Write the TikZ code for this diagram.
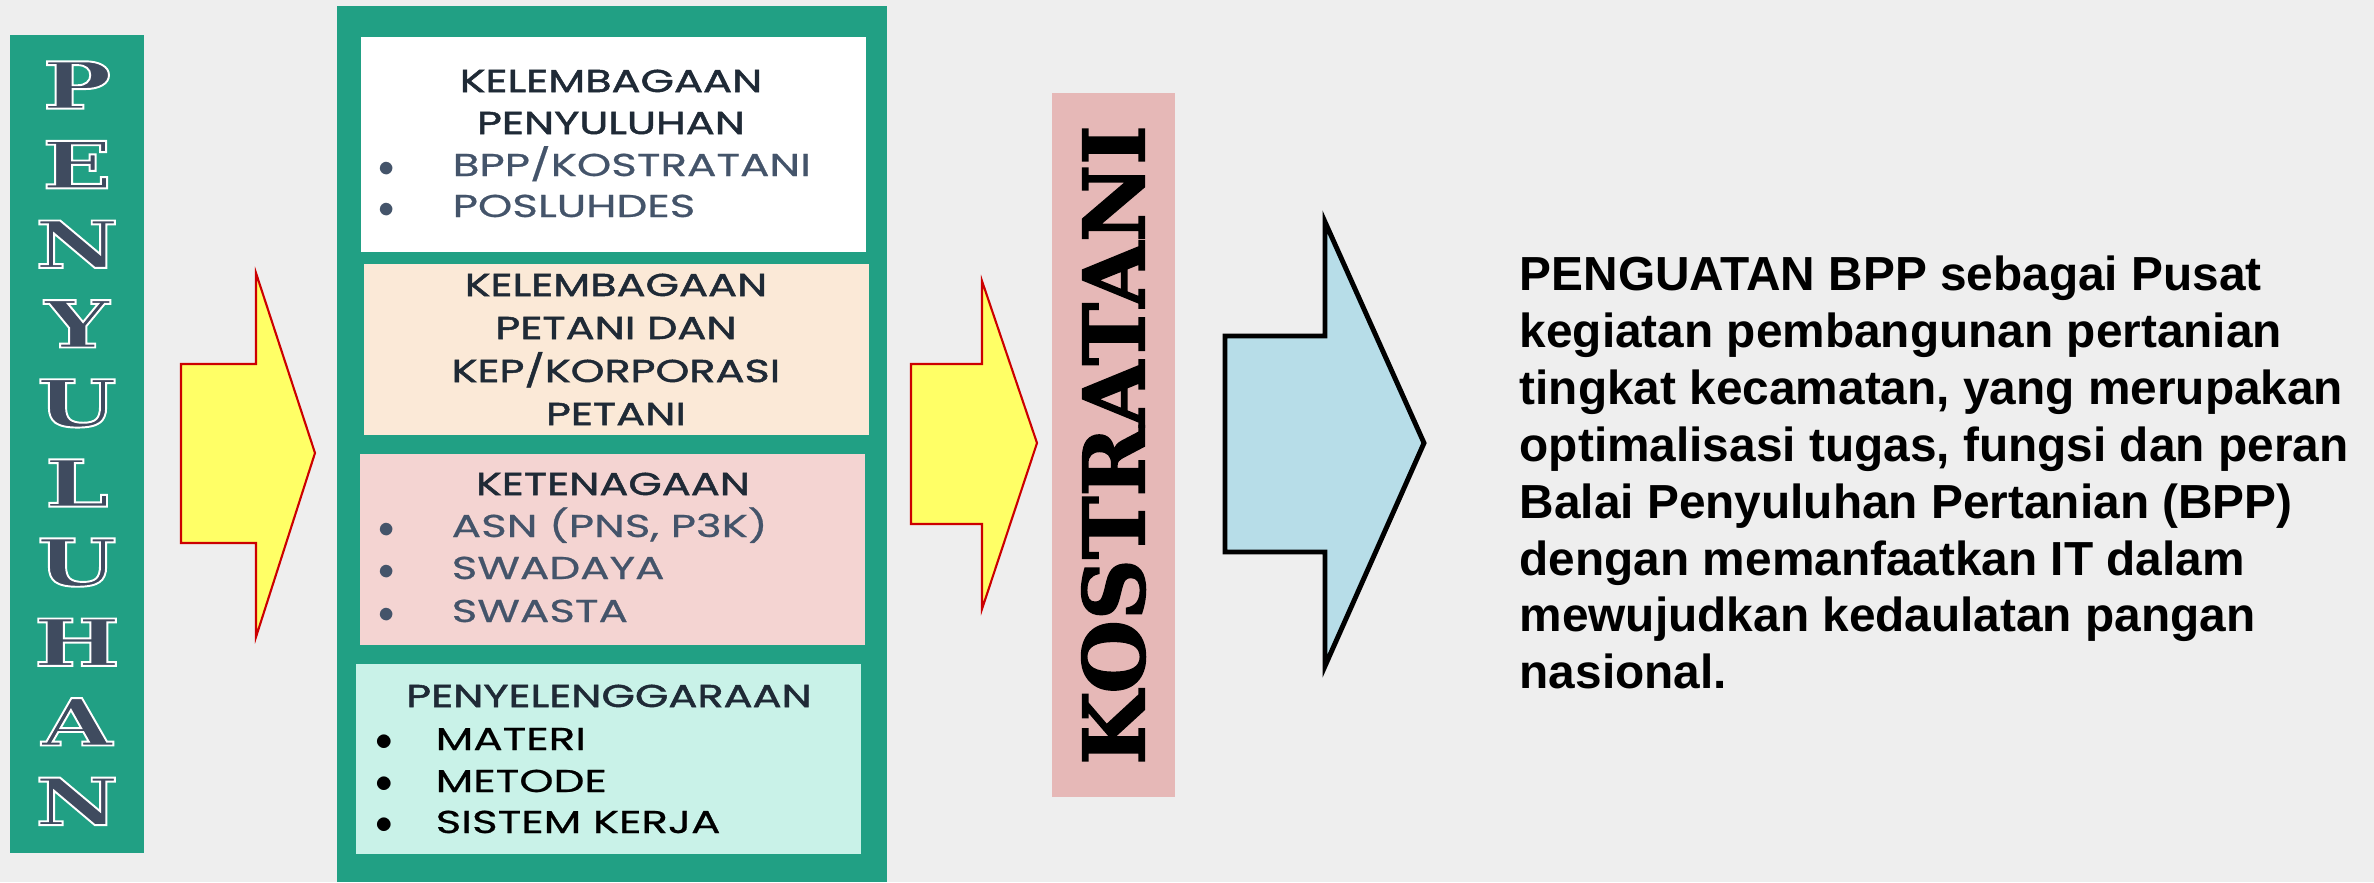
\documentclass[tikz,border=0pt]{standalone}
\usepackage{fontspec}
\usepackage{tikz}
\usetikzlibrary{positioning,calc}
\setmainfont{Liberation Sans}
\newfontfamily\judulfont[FakeStretch=1.36,FakeBold=1.6]{Poppins}
\newfontfamily\kotakfont[FakeStretch=1.38,FakeBold=0.7]{Poppins}
\newfontfamily\hurufbesar[FakeStretch=1.4]{DejaVu Serif}
\newfontfamily\serifbesar[FakeBold=2]{DejaVu Serif}
% huruf gelap dengan tepi putih
\newcommand{\tepiputih}[1]{\special{pdf:literal direct 2 Tr 1 1 1 RG 0.55 w}#1\special{pdf:literal direct 0 Tr}}
\definecolor{kertas}{HTML}{EEEEEE}
\definecolor{hijau}{HTML}{21A084}
\definecolor{abubiru}{HTML}{3F4B5F}
\definecolor{judulwarna}{HTML}{1F2A36}
\definecolor{butirwarna}{HTML}{44546A}
\definecolor{krem}{HTML}{FBE9D7}
\definecolor{merahmuda}{HTML}{F4D4D2}
\definecolor{mint}{HTML}{C9F2E8}
\definecolor{pink}{HTML}{E6B8B7}
\definecolor{kuning}{HTML}{FFFF66}
\definecolor{biru}{HTML}{B7DDE8}
\tikzstyle{batang} = [rectangle, fill=hijau, inner sep=0pt]
\tikzstyle{kotak} = [rectangle, inner sep=0pt, minimum width=5.05cm]
\tikzstyle{huruf} = [inner sep=0pt, text=abubiru, font=\hurufbesar\bfseries\fontsize{18.5}{18.5}\selectfont]
\tikzstyle{judul} = [anchor=base, inner sep=0pt, text=judulwarna, font=\judulfont\fontsize{9}{11}\selectfont]
\tikzstyle{butir} = [anchor=base west, inner sep=0pt, text=butirwarna, font=\kotakfont\fontsize{9}{11}\selectfont]
\tikzstyle{titik} = [anchor=base, inner sep=0pt, text=butirwarna, font=\small]
\tikzstyle{panahkuning} = [fill=kuning, draw=red!80!black, line width=0.6pt]
\tikzstyle{panahbiru} = [fill=biru, draw=black, line width=1.4pt]

\begin{document}
\begin{tikzpicture}
\useasboundingbox (0,0) rectangle (23.74,8.82);
\fill[kertas] (0,0) rectangle (23.74,8.82);
% kolom PENYULUHAN
\node (pen) at (0.77,4.38) [batang, minimum width=1.34cm, minimum height=8.18cm] {};
\node (h0) at (0.77,7.97) [huruf] {\tepiputih{P}};
\node (h1) at (0.77,7.174) [huruf] {\tepiputih{E}};
\node (h2) at (0.77,6.378) [huruf] {\tepiputih{N}};
\node (h3) at (0.77,5.582) [huruf] {\tepiputih{Y}};
\node (h4) at (0.77,4.786) [huruf] {\tepiputih{U}};
\node (h5) at (0.77,3.99) [huruf] {\tepiputih{L}};
\node (h6) at (0.77,3.194) [huruf] {\tepiputih{U}};
\node (h7) at (0.77,2.398) [huruf] {\tepiputih{H}};
\node (h8) at (0.77,1.602) [huruf] {\tepiputih{A}};
\node (h9) at (0.77,0.806) [huruf] {\tepiputih{N}};
\draw[panahkuning] (1.81,5.18) -- (2.56,5.18) -- (2.56,6.09) -- (3.15,4.29) -- (2.56,2.45) -- (2.56,3.39) -- (1.81,3.39) -- cycle;
% kolom tengah
\node (wadah) at (6.12,4.38) [batang, minimum width=5.5cm, minimum height=8.76cm] {};
\node (k1) at (6.13,7.375) [kotak, fill=white, minimum height=2.15cm] {};
\node (k2) at (6.165,5.325) [kotak, fill=krem, minimum height=1.71cm] {};
\node (k3) at (6.125,3.325) [kotak, fill=merahmuda, minimum height=1.91cm] {};
\node (k4) at (6.08,1.23) [kotak, fill=mint, minimum height=1.9cm] {};
\node (j1a) at (6.11,7.90) [judul] {KELEMBAGAAN};
\node (j1b) at (6.11,7.48) [judul] {PENYULUHAN};
\node (t1a) at (3.87,7.06) [titik] {$\bullet$};
\node (b1a) at (4.52,7.06) [butir] {BPP/KOSTRATANI};
\node (t1b) at (3.87,6.65) [titik] {$\bullet$};
\node (b1b) at (4.52,6.65) [butir] {POSLUHDES};
\node (j2a) at (6.16,5.86) [judul] {KELEMBAGAAN};
\node (j2b) at (6.16,5.43) [judul] {PETANI DAN};
\node (j2c) at (6.16,5.00) [judul] {KEP/KORPORASI};
\node (j2d) at (6.16,4.57) [judul] {PETANI};
\node (j3) at (6.13,3.87) [judul] {KETENAGAAN};
\node (t3a) at (3.87,3.45) [titik] {$\bullet$};
\node (b3a) at (4.51,3.45) [butir] {ASN (PNS, P3K)};
\node (t3b) at (3.87,3.03) [titik] {$\bullet$};
\node (b3b) at (4.51,3.03) [butir] {SWADAYA};
\node (t3c) at (3.87,2.60) [titik] {$\bullet$};
\node (b3c) at (4.51,2.60) [butir] {SWASTA};
\node (j4) at (6.09,1.75) [judul] {PENYELENGGARAAN};
\node (t4a) at (3.84,1.32) [titik, text=black, font=\normalsize] {$\bullet$};
\node (b4a) at (4.35,1.32) [butir, text=black] {MATERI};
\node (t4b) at (3.84,0.90) [titik, text=black, font=\normalsize] {$\bullet$};
\node (b4b) at (4.35,0.90) [butir, text=black] {METODE};
\node (t4c) at (3.84,0.49) [titik, text=black, font=\normalsize] {$\bullet$};
\node (b4c) at (4.35,0.49) [butir, text=black] {SISTEM KERJA};
\draw[panahkuning] (9.11,5.18) -- (9.82,5.18) -- (9.82,6.01) -- (10.37,4.39) -- (9.82,2.73) -- (9.82,3.58) -- (9.11,3.58) -- cycle;
% KOSTRATANI
\node (kos) at (11.135,4.37) [rectangle, fill=pink, rotate=90, minimum width=7.04cm, minimum height=1.23cm, inner sep=0pt, font=\serifbesar\bfseries\fontsize{24}{24}\selectfont] {KOSTRATANI};
\draw[panahbiru] (12.25,5.46) -- (13.25,5.46) -- (13.25,6.60) -- (14.24,4.39) -- (13.25,2.16) -- (13.25,3.30) -- (12.25,3.30) -- cycle;
% teks kanan
\node (teks) at (15.19,6.27) [anchor=north west, inner sep=0pt, align=left, font=\fontsize{13.6}{16.2}\selectfont\bfseries] {PENGUATAN BPP sebagai Pusat\\
kegiatan pembangunan pertanian\\
tingkat kecamatan, yang merupakan\\
optimalisasi tugas, fungsi dan peran\\
Balai Penyuluhan Pertanian (BPP)\\
dengan memanfaatkan IT dalam\\
mewujudkan kedaulatan pangan\\
nasional.};
\end{tikzpicture}
\end{document}
